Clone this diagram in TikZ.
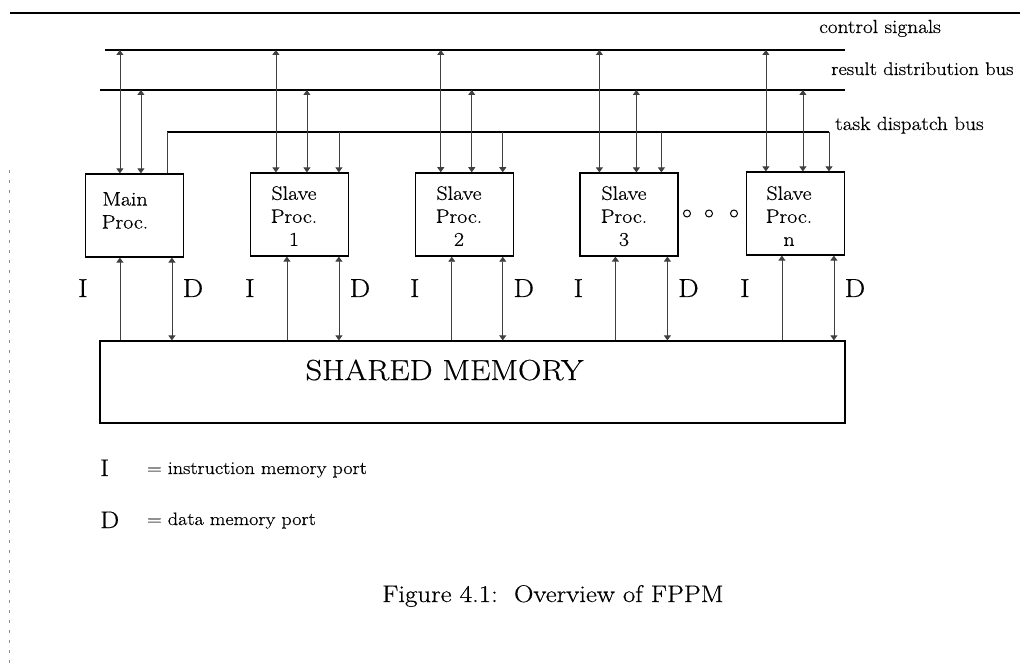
\documentclass[tikz,border=0pt]{standalone}
\usepackage{fontspec}
\setmainfont{Latin Modern Roman}[FakeStretch=1.12, FakeBold=0.5]
\usetikzlibrary{arrows.meta,calc}
\tikzset{
  bus/.style={line width=1.6pt, black},
  conn/.style={line width=0.8pt, black!75},
  biarr/.style={conn, {Triangle[width=7pt,length=5pt]}-{Triangle[width=7pt,length=5pt]}},
  onearr/.style={conn, -{Triangle[width=7pt,length=5pt]}},
  pbox/.style={draw, line width=1.2pt, minimum width=98pt, minimum height=83pt, inner sep=0pt},
  ptext/.style={font=\fontsize{19.5}{23}\selectfont, align=center, inner sep=0pt, anchor=north},
  port/.style={font=\fontsize{26}{26}\selectfont, inner sep=0pt, anchor=base},
  buslabel/.style={font=\fontsize{19}{19}\selectfont, inner sep=0pt, anchor=base west},
  legend/.style={font=\fontsize{18}{18}\selectfont, inner sep=0pt, anchor=base west},
  legsym/.style={font=\fontsize{24}{24}\selectfont, inner sep=0pt, anchor=base west},
  dot/.style={circle, draw, line width=1pt, minimum size=7pt, inner sep=0pt},
}
\begin{document}
\begin{tikzpicture}[x=1pt, y=-1pt]
  \fill[white] (0,0) rectangle (1020,668);
  \useasboundingbox (0,0) rectangle (1020,668);

  % page rule and left margin trace
  \coordinate (ruleL) at (10,13);
  \coordinate (ruleR) at (1020,13);
  \draw[bus] (ruleL) -- (ruleR);
  \coordinate (edgeT) at (9,170);
  \coordinate (edgeB) at (9,668);
  \draw[black!45, line width=0.8pt, dash pattern=on 3pt off 7pt] (edgeT) -- (edgeB);

  % buses
  \coordinate (cbL) at (105,50);  \coordinate (cbR) at (845,50);
  \coordinate (rbL) at (100,90);  \coordinate (rbR) at (845,90);
  \coordinate (tbL) at (167,132); \coordinate (tbR) at (829,132);
  \draw[bus] (cbL) -- (cbR);
  \draw[bus] (rbL) -- (rbR);
  \draw[bus] (tbL) -- (tbR);

  \node[buslabel] (lcs) at (819,33) {control signals};
  \node[buslabel, font=\fontsize{18.3}{18.3}\selectfont] (lrb) at (831,75) {result distribution bus};
  \node[buslabel] (ltb) at (835,130) {task dispatch bus};

  % processors
  \node[pbox] (m)  at (134.5,215.5) {};
  \node[pbox] (s1) at (299.5,214.5) {};
  \node[pbox, line width=1.5pt] (s2) at (464.5,214.5) {};
  \node[pbox] (s3) at (629,214.5) {};
  \node[pbox] (sn) at (795.5,213.5) {};

  \node[ptext] (mt)  at (125,192) {Main\\Proc.};
  \node[ptext] (s1t) at (294,186) {Slave\\Proc.\\1};
  \node[ptext] (s2t) at (459,186) {Slave\\Proc.\\2};
  \node[ptext] (s3t) at (624,186) {Slave\\Proc.\\3};
  \node[ptext] (snt) at (789,186) {Slave\\Proc.\\n};

  \node[dot] (o1) at (687,213.5) {};
  \node[dot] (o2) at (709,213.5) {};
  \node[dot] (o3) at (734,213.5) {};

  % shared memory
  \node[draw, line width=1.2pt, minimum width=745pt, minimum height=82pt, inner sep=0pt] (mem) at (472.5,382) {};
  \node[font=\fontsize{29}{29}\selectfont, inner sep=0pt, anchor=base] (memt) at (444.5,380) {SHARED MEMORY};

  % main processor: control and result links, task bus feed
  \coordinate (p) at ($(m.north west)+(35,0)$);
  \draw[biarr] (p) -- (p |- cbL);
  \coordinate (p) at ($(m.north west)+(56,0)$);
  \draw[biarr] (p) -- (p |- rbL);
  \draw[conn] (m.north -| tbL) -- (tbL);

  % slave processors: control, result and task links
  \foreach \b/\c/\r/\t in {s1/26/57/89, s2/26/57/88, s3/20/57/82} {
    \coordinate (p) at ($(\b.north west)+(\c,0)$);
    \draw[biarr] (p) -- (p |- cbL);
    \coordinate (p) at ($(\b.north west)+(\r,0)$);
    \draw[biarr] (p) -- (p |- rbL);
    \coordinate (p) at ($(\b.north west)+(\t,0)$);
    \draw[onearr] (p |- tbL) -- (p);
  }
  \coordinate (p) at ($(sn.north west)+(20,0)$);
  \draw[biarr] (p) -- (p |- cbL);
  \coordinate (p) at ($(sn.north west)+(57,0)$);
  \draw[biarr] (p) -- (p |- rbL);
  \draw[onearr] (tbR) -- (sn.north -| tbR);

  % memory ports
  \foreach \b/\i/\d in {m/35/87, s1/37/89, s2/37/88, s3/36/88, sn/36/88} {
    \coordinate (p) at ($(\b.south west)+(\i,0)$);
    \draw[onearr] (p |- mem.north) -- (p);
    \node[port] at ($(p |- 0,297)+(-37,0)$) {I};
    \coordinate (p) at ($(\b.south west)+(\d,0)$);
    \draw[biarr] (p |- mem.north) -- (p);
    \node[port] at ($(p |- 0,297)+(21,0)$) {D};
  }

  % legend and caption
  \node[legsym] (kI) at (100,476) {I};
  \node[legend] (kIt) at (147,474) {= instruction memory port};
  \node[legsym] (kD) at (100,528) {D};
  \node[legend] (kDt) at (147,525) {= data memory port};
  \node[font=\fontsize{24}{24}\selectfont, inner sep=0pt, anchor=base west] (cap) at (382,602) {Figure 4.1:\ \ Overview of FPPM};
\end{tikzpicture}
\end{document}
